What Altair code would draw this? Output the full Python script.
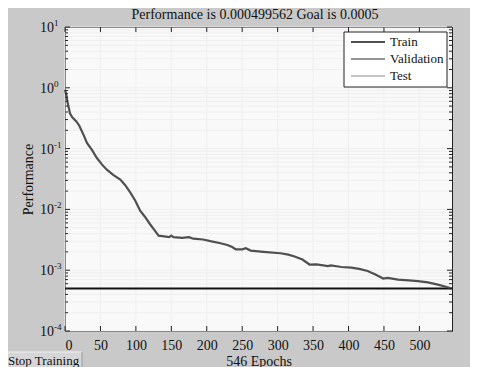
import altair as alt
import pandas as pd

# ---- data ----
epochs = [0, 2, 4, 7, 10, 16, 20, 26, 31, 38, 45, 52, 59, 68, 78, 85, 92, 99, 106, 113,
          120, 126, 132, 140, 147, 150, 153, 165, 175, 181, 195, 205, 218, 229, 236, 241,
          250, 255, 262, 280, 304, 315, 323, 335, 345, 355, 371, 375, 390, 404, 415, 427,
          438, 449, 455, 470, 485, 498, 512, 526, 536, 546]
perf = [0.93, 0.75, 0.55, 0.38, 0.33, 0.28, 0.24, 0.17, 0.124, 0.095, 0.07, 0.055, 0.045,
        0.037, 0.031, 0.025, 0.019, 0.014, 0.0095, 0.0075, 0.0057, 0.0046, 0.0037, 0.0036,
        0.0035, 0.0037, 0.0035, 0.0034, 0.0035, 0.0033, 0.0032, 0.0030, 0.0028, 0.0026,
        0.0024, 0.0022, 0.0022, 0.0023, 0.0021, 0.0020, 0.0019, 0.0018, 0.0017, 0.0015,
        0.00124, 0.00125, 0.00117, 0.00120, 0.00113, 0.0011, 0.00105, 0.00097, 0.00085,
        0.00073, 0.00075, 0.00070, 0.00068, 0.00066, 0.00063, 0.00058, 0.00054, 0.0005]
goal = 0.0005
title_text = "Performance is 0.000499562 Goal is 0.0005"
series_names = ["Train", "Validation", "Test"]
series_colors = ["#505050", "#2a2a2a", "#8c8c8c"]
series_widths = [2.2, 1.0, 1.0]
x_ticks = [0, 50, 100, 150, 200, 250, 300, 350, 400, 450, 500]
y_decades = [1e-4, 1e-3, 1e-2, 1e-1, 1, 10]
y_exponents = ["-4", "-3", "-2", "-1", "0", "1"]
y_minor = [m * d for d in [1e-4, 1e-3, 1e-2, 1e-1, 1] for m in range(2, 10)]

W, H = 387, 304
FONT = "Liberation Serif, Times New Roman, serif"
TXT = "#111111"
GRID = "#efefef"

df = pd.DataFrame({"epoch": epochs, "perf": perf})
xs = alt.Scale(domain=[0, 546], nice=False, zero=False)
ys = alt.Scale(type="log", domain=[1e-4, 10], nice=False)

xdf = pd.DataFrame({"x": x_ticks})
ymaj = pd.DataFrame({"y": y_decades, "e": y_exponents})
ymin = pd.DataFrame({"y": y_minor})
yall = pd.DataFrame({"y": y_decades + y_minor})
gdf = pd.DataFrame({"y": [goal]})
one = pd.DataFrame({"a": [0]})

x_axis = alt.Axis(values=x_ticks, title="546 Epochs", tickSize=0, domain=False, grid=False,
                  labelPadding=7, labelFont=FONT, labelFontSize=14, labelColor=TXT,
                  titleFont=FONT, titleFontSize=14, titleFontWeight="normal",
                  titleColor=TXT, titlePadding=2)
y_axis = alt.Axis(title="Performance", labels=False, ticks=False, domain=False, grid=False,
                  titleFont=FONT, titleFontSize=14, titleFontWeight="normal",
                  titleColor=TXT, titlePadding=30)


def X(field):
    return alt.X(field, scale=xs, axis=x_axis)


def Y(field):
    return alt.Y(field, scale=ys, axis=y_axis)


grid_v = alt.Chart(xdf).mark_rule(color=GRID, strokeWidth=1).encode(
    x=X("x:Q"), y=alt.value(0), y2=alt.value(H))
grid_h = alt.Chart(yall).mark_rule(color=GRID, strokeWidth=1).encode(
    y=Y("y:Q"), x=alt.value(0), x2=alt.value(W))

goal_rule = alt.Chart(gdf).mark_rule(color="#111", strokeWidth=2).encode(
    y=Y("y:Q"), x=alt.value(0), x2=alt.value(W))

line = alt.Chart(df).mark_line(color=series_colors[0], strokeWidth=series_widths[0]).encode(
    x=X("epoch:Q"), y=Y("perf:Q"))

tick_c = "#222"
tk = []
for x0, x1, d in [(0, 5, ymaj), (W - 5, W, ymaj), (0, 3, ymin), (W - 3, W, ymin)]:
    tk.append(alt.Chart(d[["y"]]).mark_rule(color=tick_c).encode(
        y=Y("y:Q"), x=alt.value(x0), x2=alt.value(x1)))
for y0, y1 in [(0, 5), (H - 5, H)]:
    tk.append(alt.Chart(xdf).mark_rule(color=tick_c).encode(
        x=X("x:Q"), y=alt.value(y0), y2=alt.value(y1)))

lab10 = alt.Chart(ymaj).mark_text(align="right", baseline="middle", font=FONT, fontSize=14,
                                  color=TXT, dx=-11, dy=1).encode(
    y=Y("y:Q"), x=alt.value(0), text=alt.value("10"))
labexp = alt.Chart(ymaj).mark_text(align="left", baseline="middle", font=FONT, fontSize=9,
                                   color=TXT, dx=-11, dy=-4).encode(
    y=Y("y:Q"), x=alt.value(0), text="e:N")

title = alt.Chart(one).mark_text(align="center", baseline="middle", font=FONT, fontSize=14,
                                 color=TXT).encode(
    x=alt.value(190), y=alt.value(-12), text=alt.value(title_text))

# legend box (manual, MATLAB style)
leg = [alt.Chart(one).mark_rect(fill="white", stroke="#222", strokeWidth=1).encode(
    x=alt.value(279), x2=alt.value(382), y=alt.value(5), y2=alt.value(60))]
for i, (nm, col, wd) in enumerate(zip(series_names, series_colors, series_widths)):
    yy = 15 + 17 * i
    leg.append(alt.Chart(one).mark_rule(color=col, strokeWidth=wd).encode(
        x=alt.value(286), x2=alt.value(320), y=alt.value(yy)))
    leg.append(alt.Chart(one).mark_text(align="left", baseline="middle", font=FONT, fontSize=13,
                                        color=TXT).encode(
        x=alt.value(325), y=alt.value(yy), text=alt.value(nm)))

btn = alt.Chart(one).mark_rect(fill="#d6d6d6", stroke="#f2f2f2", strokeWidth=1).encode(
    x=alt.value(-58), x2=alt.value(17), y=alt.value(325), y2=alt.value(345))
btn_edge = alt.Chart(one).mark_rule(color="#8a8a8a").encode(
    x=alt.value(17), y=alt.value(325), y2=alt.value(345))
btn_txt = alt.Chart(one).mark_text(align="left", baseline="middle", font=FONT, fontSize=13,
                                   color=TXT).encode(
    x=alt.value(-57), y=alt.value(334), text=alt.value("Stop Training"))

chart = alt.layer(grid_v, grid_h, goal_rule, line, *tk, lab10, labexp, title, *leg,
                  btn, btn_edge, btn_txt).properties(
    width=W, height=H,
    autosize=alt.AutoSizeParams(type="none"),
    padding={"left": 57, "top": 19, "right": 18, "bottom": 36},
).configure(background="#c9c9c9").configure_view(fill="#f9f9f9", stroke="#222", strokeWidth=1)

chart.save("out.html", embed_options={"renderer": "svg", "actions": False})
